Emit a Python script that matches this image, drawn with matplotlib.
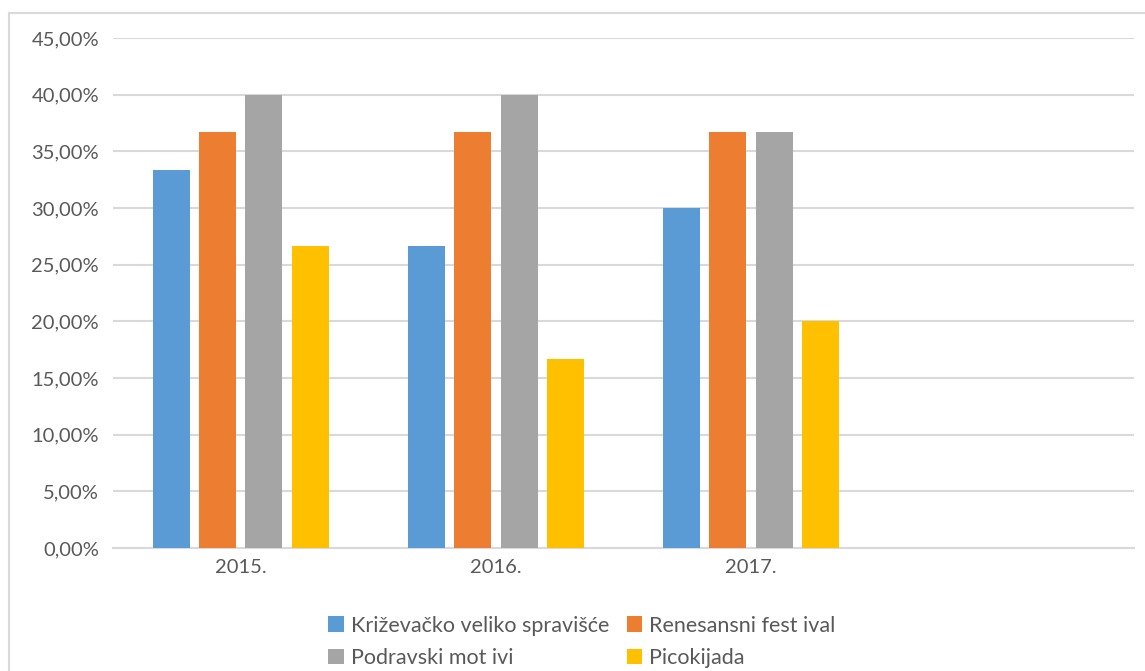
import matplotlib.pyplot as plt
import matplotlib.patches as mpatches
import numpy as np

# Data
years = ['2015.', '2016.', '2017.', '']
series_names = ['Križevačko veliko spravišće', 'Renesansni fest ival',
                'Podravski mot ivi', 'Picokijada']
krizevacko = [33.33, 26.67, 30.00, np.nan]
renesansni = [36.67, 36.67, 36.67, np.nan]
podravski = [40.00, 40.00, 36.67, np.nan]
picokijada = [26.67, 16.67, 20.00, np.nan]
colors = ['#5b9bd5', '#ed7d31', '#a5a5a5', '#ffc000']

plt.rcParams['font.family'] = ['Lato', 'DejaVu Sans']
text_col = '#595959'
grid_col = '#d9d9d9'

W, H = 1145, 671
fig = plt.figure(figsize=(W / 100, H / 100), dpi=100)
ax = fig.add_axes([113 / W, 1 - 548 / H, (1134 - 113) / W, (548 - 38) / H])

# outer chart border (cropped at right/bottom in the reference)
fig.patches.append(mpatches.Rectangle((9 / W, -0.1), 1.2, 1 - 13 / H + 0.1,
                                      transform=fig.transFigure, fill=False,
                                      edgecolor=grid_col, linewidth=1.5))

x = np.arange(len(years))
bw = 37 / 255.25
pitch = 46.3 / 255.25
all_series = [krizevacko, renesansni, podravski, picokijada]
bars = []
for i, (vals, name, c) in enumerate(zip(all_series, series_names, colors)):
    bars.append(ax.bar(x + (i - 1.5) * pitch, vals, width=bw, color=c,
                       label=name, zorder=3))

ax.set_xlim(-0.5, len(years) - 0.5)
ax.set_ylim(0, 45)
ax.set_yticks(np.arange(0, 46, 5))
ax.set_yticklabels([f'{v:.2f}'.replace('.', ',') + '%' for v in np.arange(0, 46, 5)])
ax.set_xticks(x)
ax.set_xticklabels(years)
ax.tick_params(axis='both', length=0, colors=text_col, labelsize=14.5)
ax.tick_params(axis='y', pad=10)
ax.tick_params(axis='x', pad=8)
ax.grid(axis='y', color=grid_col, linewidth=1.5, zorder=0)
for s in ['top', 'right', 'left']:
    ax.spines[s].set_visible(False)
ax.spines['bottom'].set_color(grid_col)
ax.spines['bottom'].set_linewidth(1.5)

# legend filled row by row like the original
order = [0, 2, 1, 3]
leg = fig.legend([bars[k] for k in order], [series_names[k] for k in order],
                 loc='center', bbox_to_anchor=(582 / W, 1 - 642 / H), ncol=2,
                 frameon=False, fontsize=15.5, handlelength=0.7, handleheight=0.7,
                 handletextpad=0.35, columnspacing=0.8, labelspacing=0.6,
                 labelcolor=text_col)

fig.savefig('out.png', dpi=100)
